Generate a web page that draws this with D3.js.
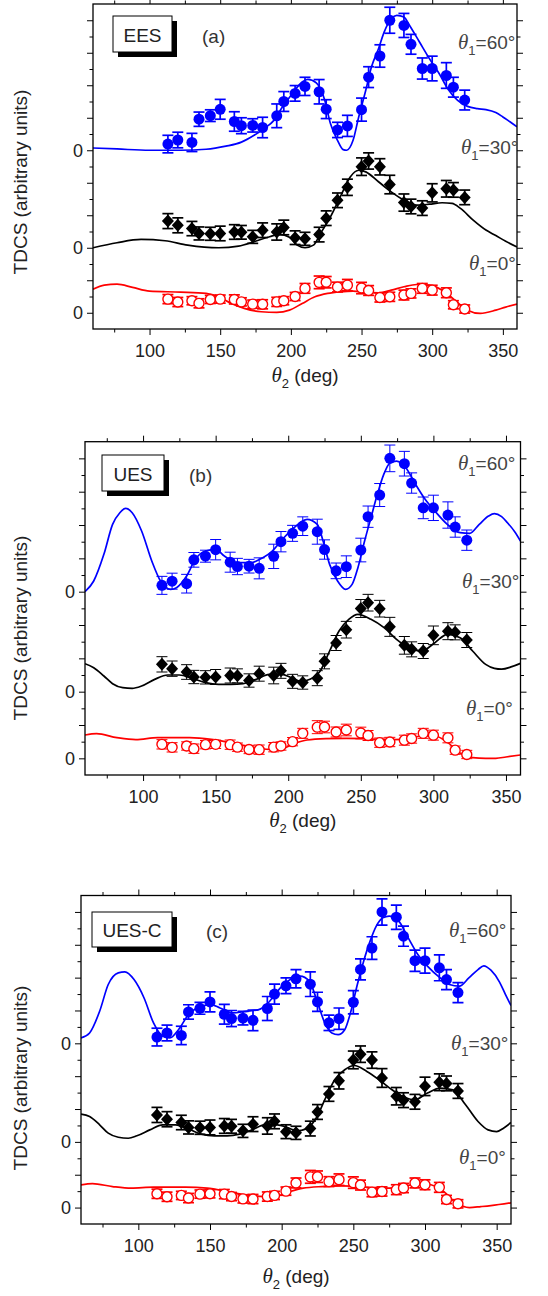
<!DOCTYPE html>
<html>
<head>
<meta charset="utf-8">
<script src="https://cdn.jsdelivr.net/npm/d3@7"></script>
<style>
  body { margin: 0; background: #fff; }
  svg { display: block; font-family: "Liberation Sans", Arial, sans-serif; }
</style>
</head>
<body>
<script>
// experimental points, same for all three panels
const theta2 = [113,120,130,135,143,150,160,165,173,180,190,195,203,210,220,225,233,240,250,255,263,270,280,285,293,300,310,315,323]

const exp60 = [0.38,0.63,0.48,1.91,2.13,2.52,1.77,1.51,1.53,1.4,2.12,3.0,3.5,3.93,3.6,2.53,1.25,1.5,2.5,4.5,5.8,8.0,7.68,6.52,5.03,5.03,4.6,3.88,3.09]
const err60 = [0.54,0.48,0.56,0.44,0.36,0.61,0.6,0.49,0.41,0.63,0.73,0.61,0.48,0.56,0.75,0.58,0.47,0.65,0.71,0.64,0.69,0.8,0.74,0.61,0.65,0.76,0.79,0.61,0.61]

const exp30 = [1.64,1.38,1.18,0.88,0.86,0.88,0.97,0.95,0.67,1.08,0.97,1.25,0.62,0.55,0.81,1.82,2.92,3.72,4.99,5.34,4.98,3.89,2.78,2.54,2.44,3.38,3.63,3.56,3.1]
const err30 = [0.46,0.46,0.44,0.4,0.4,0.45,0.45,0.42,0.4,0.45,0.5,0.45,0.42,0.4,0.45,0.45,0.45,0.5,0.54,0.5,0.5,0.57,0.53,0.45,0.45,0.56,0.51,0.45,0.45]

const exp0 = [0.84,0.66,0.74,0.58,0.82,0.84,0.82,0.67,0.53,0.52,0.67,0.74,1.0,1.5,1.87,1.88,1.58,1.7,1.52,1.37,0.94,0.98,1.09,1.19,1.5,1.39,1.23,0.49,0.23]
const err0 = [0.28,0.28,0.25,0.28,0.25,0.25,0.28,0.25,0.25,0.28,0.28,0.25,0.25,0.3,0.39,0.35,0.3,0.35,0.35,0.3,0.28,0.28,0.3,0.28,0.3,0.3,0.3,0.25,0.25]

// theory curves [theta2, TDCS]
const ees60 = [[60,0.14],[77,0.08],[100,0],[122,0],[140,0.06],[154,0.25],[165,0.5],[174,0.92],[181,1.33],[188,1.84],[194,2.66],[201,3.48],[208,4.2],[212,4.36],[218,4.14],[224,3.07],[228,1.64],[233,0.61],[237,0.04],[239.5,0],[244,0.61],[248,2.05],[253,3.69],[257,5.12],[262,6.25],[266,7.27],[271,8.09],[275,8.3],[280,8.2],[284,7.68],[291,6.66],[298,5.64],[305,4.71],[311,3.79],[318,3.07],[325,2.7],[332,2.56],[338,2.5],[345,2.32],[350,2.05],[355,1.75],[360,1.45]]
const ees30 = [[60,0],[77,0.31],[94,0.51],[111,0.43],[127,0.16],[149,0],[163,0.1],[174,0.37],[185,0.68],[192,0.82],[199,0.64],[204.5,0.16],[210,0],[216,0.16],[221,0.88],[228,1.9],[235,3.14],[242,4.36],[248,4.77],[253,4.67],[262,4.06],[271,3.44],[280,2.93],[289,2.62],[298,2.68],[307,2.77],[314,2.73],[320,2.42],[329,1.7],[338,1.09],[345,0.75],[352,0.4],[360,0.05]]
const ees0 = [[60,1.45],[68,1.7],[77,1.76],[88,1.56],[100,1.33],[122,1.27],[140,1.19],[149,0.98],[158,0.57],[167,0.27],[179,0.06],[190,0.02],[199,0.16],[208,0.57],[217,0.98],[226,1.19],[235,1.29],[244,1.33],[253,1.25],[262,1.22],[271,1.39],[280,1.6],[289,1.74],[298,1.7],[307,1.39],[316,0.78],[325,0.16],[334,-0.04],[345,0.16],[352,0.35],[360,0.53]]

const ues60 = [[60,0],[66,0.64],[73,2.24],[79,4.04],[84,4.74],[88,5.0],[92.5,4.74],[99,3.64],[106,1.84],[112,0.64],[119,0.14],[123,0.24],[130,0.94],[136,1.94],[143,2.44],[150,2.54],[156,2.14],[165,1.74],[174,1.74],[182.5,2.04],[189,2.44],[196,3.14],[204,3.84],[213,4.34],[220,4.04],[224,3.04],[228.5,1.64],[234,0.64],[239.5,0.14],[244,0.44],[248,1.44],[252.6,3.04],[257,4.44],[261.4,5.84],[265.8,7.04],[270.2,7.74],[274.6,7.84],[281,7.44],[287.7,6.44],[294.3,5.54],[301,4.84],[309.6,4.04],[318.4,3.54],[325,3.5],[331.6,4.04],[338,4.54],[342,4.68],[347,4.5],[351,4.14],[356,3.6],[360,3.04]]
const ues30 = [[60,1.68],[66,1.44],[73,0.94],[79,0.48],[86,0.24],[92.5,0.2],[99,0.34],[108,0.74],[117,1.0],[125,1.0],[134,0.8],[143,0.54],[152,0.44],[160.5,0.44],[169,0.48],[178,0.74],[187,1.04],[195.6,1.04],[202,0.84],[209,0.62],[215,0.74],[222,1.24],[228.5,2.44],[235,3.64],[241.7,4.34],[248,4.64],[257,4.34],[266,3.84],[274.6,3.14],[283,2.64],[292,2.44],[301,2.94],[309.6,3.44],[318.4,3.24],[327,2.44],[336,1.64],[342,1.4],[347,1.35],[354,1.5],[360,1.7]]
const ues0 = [[60,1.4],[68,1.48],[82,1.24],[95,1.12],[110,1.24],[132,1.24],[147,1.14],[160.5,0.94],[174,0.68],[187,0.54],[196,0.58],[204,0.88],[213,1.1],[226,1.18],[240,1.2],[253,1.18],[266,1.12],[279,1.14],[292,1.34],[301,1.34],[310,0.94],[318,0.34],[327,0.04],[336,0],[343,0],[350,0.08],[360,0.2]]

const uesc60 = [[60,0.33],[66,0.63],[73,1.95],[79,3.58],[86,4.29],[90.6,4.35],[97,3.88],[104,2.76],[110.6,1.24],[117,0.43],[122,0.33],[128,0.83],[135,1.75],[144,2.26],[150.6,2.36],[157,2.15],[166,1.85],[175,1.95],[184,2.05],[190.6,2.46],[197,3.17],[206,3.88],[212.8,4.09],[219.4,3.78],[224,2.76],[230.6,1.14],[235,0.63],[239.4,0.53],[244,0.83],[248.3,1.95],[252.8,3.58],[257.2,5.0],[261.7,6.22],[266,7.13],[270.6,7.64],[275,7.74],[281.7,7.44],[288.3,6.42],[295,5.41],[301.7,4.7],[310.6,3.98],[317,3.58],[324,3.48],[330.6,3.98],[337,4.49],[341,4.72],[346,4.45],[352,3.73],[356,3.0],[360,2.3]]
const uesc30 = [[60,1.69],[66,1.54],[73,1.04],[79,0.53],[86,0.28],[93,0.22],[99,0.37],[108,0.73],[117,1.04],[126,1.04],[135,0.79],[144,0.47],[153,0.37],[162,0.37],[170.6,0.47],[179.4,0.73],[188,1.04],[197,1.04],[204,0.87],[210.6,0.67],[217,0.79],[224,1.44],[230.6,2.66],[237,3.78],[244,4.39],[250.6,4.65],[259.4,4.29],[268,3.78],[277,3.17],[286,2.7],[292.8,2.56],[301.7,2.97],[310.6,3.27],[319.4,3.17],[328.3,2.26],[337,1.24],[344,0.73],[350,0.63],[355,0.85],[360,1.18]]
const uesc0 = [[60,1.38],[68,1.46],[82,1.28],[95,1.18],[110.6,1.24],[133,1.24],[148,1.18],[162,0.98],[175,0.77],[188,0.67],[197,0.71],[206,0.98],[215,1.18],[228,1.28],[242,1.32],[255,1.28],[268,1.18],[282,1.22],[293,1.42],[302,1.42],[313,0.98],[322,0.26],[331,0],[339,0.06],[346,0.12],[360,0.29]]

const xMajor = [100,150,200,250,300,350]
const xMinor = [75,125,175,225,275,325]
const yMajor = [0,2,4,6,8,10,12,14,16,18]
const yMinor = [1,3,5,7,9,11,13,15,17]
const zeroLevels = [0,4,10]   // tick labelled "0" for each curve
const seriesNames = ['θ1=60°','θ1=30°','θ1=0°']

const series = [
  {vals: exp60, err: err60, off: 10, color: '#0000ff', mark: 'dot', label: '=60°'},
  {vals: exp30, err: err30, off: 4,  color: '#000000', mark: 'diamond', label: '=30°'},
  {vals: exp0,  err: err0,  off: 0,  color: '#ff0000', mark: 'ring', label: '=0°'}
]

const panels = [
  {tag:'EES', letter:'(a)', left:93, right:517, top:4, bottom:329, curves:[ees60,ees30,ees0], errW:1.7,
   box:[113,16,59,36], letterX:202, tagY:42, labels:[[458,49],[461,154],[469,270]], yLabY:182, xLabY:382},
  {tag:'UES', letter:'(b)', left:85, right:520.5, top:441.7, bottom:775, curves:[ues60,ues30,ues0], errW:1,
   box:[102,455,62,36], letterX:189, tagY:481, labels:[[458,470],[462,588],[466,715]], yLabY:628, xLabY:827},
  {tag:'UES-C', letter:'(c)', left:81, right:511, top:895.5, bottom:1224, curves:[uesc60,uesc30,uesc0], errW:1.7,
   box:[92,912,80,35], letterX:206, tagY:937, labels:[[449,937],[451,1050],[459,1164]], yLabY:1078, xLabY:1283}
]

const svg = d3.select('body').append('svg')
  .attr('width', 548)
  .attr('height', 1296)

function drawPanel(p, k){
  const g = svg.append('g')
  const x = d3.scaleLinear().domain([60,360]).range([p.left, p.right])
  const y = d3.scaleLinear().domain([-1,19]).range([p.bottom, p.top])

  g.append('clipPath').attr('id','clip'+k)
    .append('rect')
    .attr('x', p.left).attr('y', p.top)
    .attr('width', p.right-p.left).attr('height', p.bottom-p.top)

  const plot = g.append('g').attr('clip-path','url(#clip'+k+')')

  // theory
  series.forEach((s,i)=>{
    const line = d3.line()
      .x(d=>x(d[0]))
      .y(d=>y(d[1]+s.off))
      .curve(d3.curveMonotoneX)
    plot.append('path')
      .datum(p.curves[i])
      .attr('d', line)
      .attr('fill','none')
      .attr('stroke', s.color)
      .attr('stroke-width', 1.7)
  })

  // experiment
  series.forEach(s=>{
    const pts = theta2.map((t,j)=>({t:t, v:s.vals[j]+s.off, e:s.err[j]}))
    const eb = plot.append('g')
      .attr('stroke', s.color)
      .attr('stroke-width', p.errW)
    pts.forEach(d=>{
      eb.append('line').attr('x1',x(d.t)).attr('x2',x(d.t))
        .attr('y1',y(d.v-d.e)).attr('y2',y(d.v+d.e))
      eb.append('line').attr('x1',x(d.t)-5.5).attr('x2',x(d.t)+5.5)
        .attr('y1',y(d.v-d.e)).attr('y2',y(d.v-d.e))
      eb.append('line').attr('x1',x(d.t)-5.5).attr('x2',x(d.t)+5.5)
        .attr('y1',y(d.v+d.e)).attr('y2',y(d.v+d.e))
    })
    const mk = plot.append('g')
    if (s.mark==='dot'){
      mk.selectAll('circle').data(pts).enter().append('circle')
        .attr('cx',d=>x(d.t)).attr('cy',d=>y(d.v)).attr('r',5.5)
        .attr('fill',s.color)
    } else if (s.mark==='diamond'){
      mk.selectAll('path').data(pts).enter().append('path')
        .attr('d',d=>`M${x(d.t)},${y(d.v)-6.5}L${x(d.t)+6},${y(d.v)}L${x(d.t)},${y(d.v)+6.5}L${x(d.t)-6},${y(d.v)}Z`)
        .attr('fill',s.color)
    } else {
      mk.selectAll('circle').data(pts).enter().append('circle')
        .attr('cx',d=>x(d.t)).attr('cy',d=>y(d.v)).attr('r',5)
        .attr('fill','#fff').attr('stroke',s.color).attr('stroke-width',1.4)
    }
  })

  // axes, ticks outward on all four sides
  const ax = (axis, tx, ty) => {
    const a = g.append('g').attr('transform',`translate(${tx},${ty})`).call(axis)
    a.select('.domain').remove()
    a.selectAll('line').attr('stroke','#000')
    a.selectAll('text').attr('font-size',18).attr('fill','#222')
      .attr('font-family','"Liberation Sans", Arial, sans-serif')
    return a
  }
  ax(d3.axisBottom(x).tickValues(xMajor).tickSize(6).tickPadding(9).tickFormat(d3.format('d')), 0, p.bottom)
  ax(d3.axisBottom(x).tickValues(xMinor).tickSize(3.5).tickFormat(''), 0, p.bottom)
  ax(d3.axisTop(x).tickValues(xMajor).tickSize(6).tickFormat(''), 0, p.top)
  ax(d3.axisTop(x).tickValues(xMinor).tickSize(3.5).tickFormat(''), 0, p.top)
  ax(d3.axisLeft(y).tickValues(yMajor).tickSize(6).tickPadding(4)
      .tickFormat(d=>zeroLevels.includes(d)?'0':''), p.left, 0)
  ax(d3.axisLeft(y).tickValues(yMinor).tickSize(3.5).tickFormat(''), p.left, 0)
  ax(d3.axisRight(y).tickValues(yMajor).tickSize(6).tickFormat(''), p.right, 0)
  ax(d3.axisRight(y).tickValues(yMinor).tickSize(3.5).tickFormat(''), p.right, 0)

  g.append('rect')
    .attr('x',p.left).attr('y',p.top)
    .attr('width',p.right-p.left).attr('height',p.bottom-p.top)
    .attr('fill','none').attr('stroke','#000').attr('stroke-width',1.3)

  // tag box with shadow
  const [bx,by,bw,bh] = p.box
  g.append('rect').attr('x',bx+5).attr('y',by+5).attr('width',bw).attr('height',bh).attr('fill','#000')
  g.append('rect').attr('x',bx).attr('y',by).attr('width',bw).attr('height',bh)
    .attr('fill','#fff').attr('stroke','#000').attr('stroke-width',1)
  g.append('text').attr('x',bx+bw/2).attr('y',p.tagY).attr('text-anchor','middle')
    .attr('font-size',19).attr('fill','#222').text(p.tag)
  g.append('text').attr('x',p.letterX).attr('y',p.tagY+1)
    .attr('font-size',19).attr('fill','#333').text(p.letter)

  // theta1 labels
  series.forEach((s,i)=>{
    const t = g.append('text').attr('x',p.labels[i][0]).attr('y',p.labels[i][1])
      .attr('font-size',19).attr('fill','#444')
    t.append('tspan').attr('font-family','"Liberation Serif", "DejaVu Serif", serif')
      .attr('font-style','italic').attr('font-size',21).text('θ')
    t.append('tspan').attr('font-size',13).attr('dy',6).text('1')
    t.append('tspan').attr('dy',-6).text(s.label)
  })

  // axis titles
  g.append('text')
    .attr('transform',`translate(27,${p.yLabY}) rotate(-90)`)
    .attr('text-anchor','middle').attr('font-size',19).attr('fill','#222')
    .text('TDCS (arbitrary units)')
  const xl = g.append('text').attr('x',(p.left+p.right)/2).attr('y',p.xLabY)
    .attr('text-anchor','middle').attr('font-size',19).attr('fill','#222')
  xl.append('tspan').attr('font-family','"Liberation Serif", "DejaVu Serif", serif')
    .attr('font-style','italic').attr('font-size',21).text('θ')
  xl.append('tspan').attr('font-size',13).attr('dy',6).text('2')
  xl.append('tspan').attr('dy',-6).text(' (deg)')
}

panels.forEach(drawPanel)
</script>
</body>
</html>
